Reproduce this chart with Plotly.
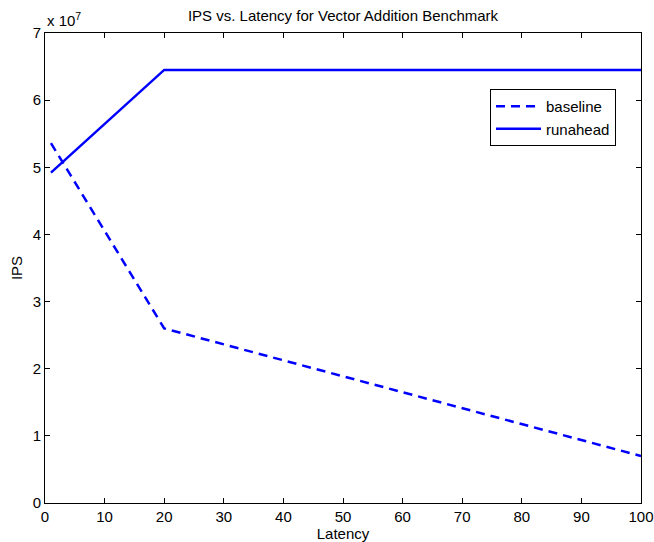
import plotly.graph_objects as go

latency = [1, 20, 100]
baseline = [5.36e7, 2.60e7, 0.70e7]
runahead = [4.92e7, 6.45e7, 6.45e7]

x_ticks = [0, 10, 20, 30, 40, 50, 60, 70, 80, 90, 100]
y_ticks = [0, 1e7, 2e7, 3e7, 4e7, 5e7, 6e7, 7e7]
y_tick_labels = ["0", "1", "2", "3", "4", "5", "6", "7"]

font = "Liberation Sans, Arial, Helvetica, sans-serif"
fs = 15

fig = go.Figure()
fig.add_trace(go.Scatter(x=latency, y=baseline, mode="lines", name="baseline",
                         line=dict(color="#0000ff", width=2.5, dash="9px,6px")))
fig.add_trace(go.Scatter(x=latency, y=runahead, mode="lines", name="runahead",
                         line=dict(color="#0000ff", width=2.5)))

axis_common = dict(showline=True, linecolor="black", linewidth=1, mirror="ticks",
                   ticks="inside", ticklen=5, tickcolor="black", tickwidth=1,
                   showgrid=False, zeroline=False, automargin=False,
                   tickfont=dict(family=font, size=fs, color="black"))

L, R, T, B = 45, 13, 33, 39
W, H = 654, 542
pw, ph = W - L - R, H - T - B

fig.update_layout(
    width=W, height=H,
    margin=dict(l=L, r=R, t=T, b=B),
    paper_bgcolor="white", plot_bgcolor="white",
    font=dict(family=font, size=fs, color="black"),
    title=dict(text="IPS vs. Latency for Vector Addition Benchmark",
               x=0.5, xanchor="center", xref="paper", y=1 - 16/H, yanchor="middle",
               font=dict(family=font, size=fs, color="black")),
    xaxis=dict(range=[0, 100], tickvals=x_ticks,
               title=dict(text="Latency", standoff=0, font=dict(family=font, size=fs)),
               **axis_common),
    yaxis=dict(range=[0, 7e7], tickvals=y_ticks, ticktext=y_tick_labels,
               title=dict(text="IPS", standoff=6, font=dict(family=font, size=fs)),
               **axis_common),
    legend=dict(x=(616 - L) / pw, xanchor="right", y=(H - B - 89) / ph, yanchor="top",
                bgcolor="white", bordercolor="black", borderwidth=1,
                font=dict(family=font, size=fs, color="black"),
                itemwidth=45, tracegroupgap=2),
    showlegend=True,
    annotations=[dict(text="x 10<sup>7</sup>", xref="paper", yref="paper",
                      x=0, y=1, xanchor="left", yanchor="bottom", yshift=2,
                      showarrow=False, font=dict(family=font, size=fs, color="black"))],
)

fig.write_html("out.html", config={"displayModeBar": False},
               post_script="document.body.style.margin='0';")
